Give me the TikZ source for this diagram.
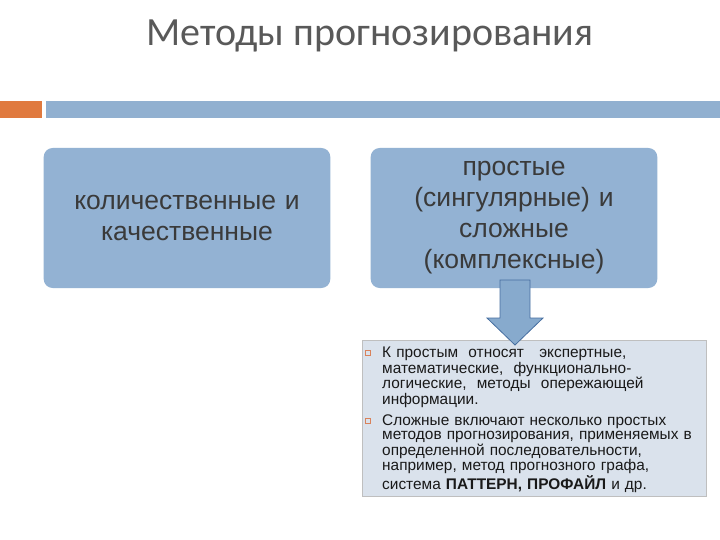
\documentclass[tikz,border=0pt]{standalone}
\usepackage{fontspec}
\setmainfont{Liberation Sans}
\newfontfamily\titlefont{Carlito}
\begin{document}
\begin{tikzpicture}[x=1pt,y=-1pt,
 bigbox/.style={draw=none,fill=boxblue,rounded corners=9pt,minimum width=285pt,minimum height=140pt,align=center,text width=280pt,font=\fontsize{26.5}{31}\selectfont,text=textgray},
 bul/.style={draw=bulor,line width=0.6pt,minimum size=5pt,inner sep=0pt},
 body/.style={anchor=north west,inner sep=0pt,text width=330pt,align=left,font=\fontsize{15.4}{14}\selectfont,text=black!90}]
\definecolor{boxblue}{HTML}{93B2D3}
\definecolor{textgray}{HTML}{3A3A3A}
\definecolor{bulor}{HTML}{D9825B}
\useasboundingbox (0,0) rectangle (720,540);
\node[font=\titlefont\fontsize{40}{44}\selectfont,text=black!65] (title) at (370,36) {Методы прогнозирования};
\fill[fill={rgb,255:red,224;green,122;blue,63}] (0,101) rectangle (42,118);
\fill[fill={rgb,255:red,145;green,176;blue,208}] (46,101) rectangle (720,118);
\node[bigbox] (left) at (187,218) {количественные и\\качественные};
\node[bigbox] (right) at (514,218) {простые\\(сингулярные) и\\сложные\\(комплексные)};
\node[draw=black!25,fill={rgb,255:red,218;green,226;blue,236},minimum width=344pt,minimum height=156pt,anchor=north west,inner sep=0pt] (tb) at (362,340) {};
\draw[draw={rgb,255:red,70;green,110;blue,160},line width=0.8pt,fill={rgb,255:red,135;green,170;blue,205}]
 (500,280) -- (530,280) -- (530,318) -- (543,318) -- (515,345) -- (487,318) -- (500,318) -- cycle;
\node[bul] (b1) at (368,353) {};
\node[bul] (b2) at (368,421) {};
\node[body] (t1) at (382,347)
 {К простым\ \ относят\ \ \ экспертные,\\математические,\ \ функционально-\\логические,\ \ методы\ \ опережающей\\информации.};
\node[body] (t2) at (382,415)
 {Сложные включают несколько простых\\методов прогнозирования, применяемых в\\определенной последовательности,\\например, метод прогнозного графа,\\система \textbf{ПАТТЕРН, ПРОФАЙЛ} и др.};
\end{tikzpicture}
\end{document}
